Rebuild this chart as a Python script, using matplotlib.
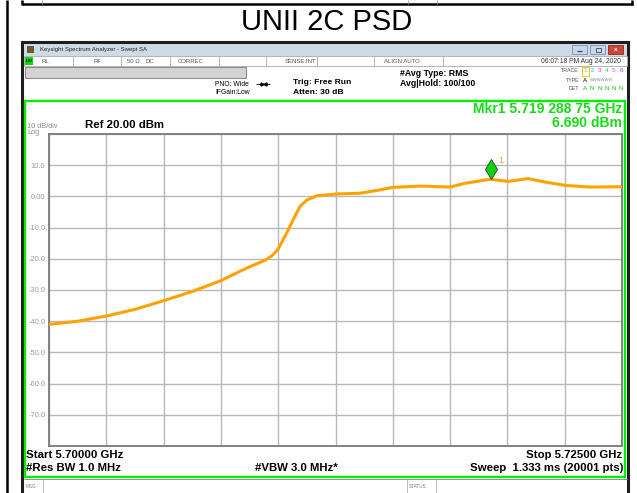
import matplotlib
matplotlib.use("Agg")
import matplotlib.pyplot as plt
import matplotlib.transforms as mtransforms
from matplotlib.patches import Rectangle

# ====== trace values ======
freq_ghz = [5.70000, 5.70127, 5.70253, 5.70375, 5.70497, 5.70624, 5.70750, 5.70833, 5.70877,
            5.70942, 5.70973, 5.70999, 5.71038, 5.71065, 5.71095, 5.71126, 5.71169, 5.71257,
            5.71357, 5.71422, 5.71500, 5.71619, 5.71750, 5.71815, 5.71924, 5.72003, 5.72090,
            5.72164, 5.72256, 5.72360, 5.72500]
level_dbm = [-41.0, -40.0, -38.3, -36.2, -33.5, -30.5, -27.0, -24.0, -22.5,
             -20.5, -19.0, -17.0, -11.6, -7.5, -3.2, -1.1, 0.2, 0.8,
             1.0, 1.8, 2.9, 3.3, 3.0, 4.2, 5.5, 4.8, 5.7,
             4.6, 3.5, 3.0, 3.1]

start_ghz, stop_ghz = 5.700, 5.725
ref_level, db_div = 20.0, 10.0
mkr_freq, mkr_level = 5.71928875, 6.690

y_ticks = [20, 10, 0, -10, -20, -30, -40, -50, -60, -70, -80]
y_labels = ["", "10.0", "0.00", "-10.0", "-20.0", "-30.0", "-40.0", "-50.0", "-60.0", "-70.0", ""]

trace_nums = ["1", "2", "3", "4", "5", "6"]
trace_cols = ["#f0a000", "#00d0f0", "#ff20ff", "#30d030", "#ff40ff", "#9040ff"]

status_cells = [(42, "RL"), (93, "RF"), (127, "50 \u03a9"), (146, "DC"), (178, "CORREC"),
                (285, "SENSE:INT"), (384, "ALIGN AUTO")]
status_seps = [73, 121, 170, 219, 266, 317, 374, 443]

UI = ["Liberation Sans", "DejaVu Sans"]

W, H = 637, 493
fig = plt.figure(figsize=(W / 100, H / 100), dpi=100)
bg = fig.add_axes([0, 0, 1, 1])
bg.set_xlim(0, W)
bg.set_ylim(H, 0)
bg.axis("off")


def box(x0, y0, x1, y1, fc="none", ec="none", lw=1.0, z=1):
    bg.add_patch(Rectangle((x0, y0), x1 - x0, y1 - y0, facecolor=fc,
                           edgecolor=ec, linewidth=lw, zorder=z))


def hline(y, x0, x1, c="black", lw=1.0, z=2):
    bg.plot([x0, x1], [y, y], color=c, lw=lw, solid_capstyle="butt", zorder=z)


def vline(x, y0, y1, c="black", lw=1.0, z=2):
    bg.plot([x, x], [y0, y1], color=c, lw=lw, solid_capstyle="butt", zorder=z)


def txt(x, y, s, size, color="black", weight="normal", ha="left", va="center", family=UI):
    bg.text(x, y, s, fontsize=size, color=color, fontweight=weight, ha=ha, va=va,
            family=family, zorder=5)


# page table lines
hline(4, 22, 633, lw=1.8)
vline(7, 0, H, lw=1.8)
vline(22, 0, 5, lw=1.8)
vline(632, 0, 5, lw=1.8)
for xx in [42, 408, 437]:
    vline(xx, 0, 4, c="#9a9a9a", lw=0.6)

txt(327, 22.5, "UNII 2C PSD", 21, ha="center")

# analyzer window
box(22, 42, 628, 496, fc="white", ec="#1e1e1e", lw=2.2)
box(24, 43.5, 626.5, 56, fc="#cfdae7")
box(27, 46, 34, 53, fc="#6b5a2a")
txt(40, 49.8, "Keysight Spectrum Analyzer - Swept SA", 4.3, color="#222222")
box(572, 45, 587, 53.5, fc="#c8d8ec", ec="#7d8fa8", lw=0.6)
box(590, 45, 605, 53.5, fc="#c8d8ec", ec="#7d8fa8", lw=0.6)
box(608, 45, 623, 53.5, fc="#c9473b", ec="#8a2a22", lw=0.6)
hline(51, 577, 582, c="#33475e", lw=0.9, z=3)
box(595.5, 47.5, 600.5, 51.5, ec="#33475e", lw=0.6, z=3)
txt(615.5, 49.3, "x", 4.5, color="white", weight="bold", ha="center")

# status row
box(24, 56, 626.5, 66, fc="white", ec="#a8a8a8", lw=0.6)
box(25, 57, 33, 65, fc="#00e000")
txt(29, 61, "LXI", 3.2, weight="bold", ha="center")
for xx in status_seps:
    vline(xx, 56, 66, c="#a8a8a8", lw=0.6)
for xx, s in status_cells:
    txt(xx, 61.2, s, 4.3, color="#555555")
txt(621, 61.2, "06:07:18 PM Aug 24, 2020", 4.9, color="#333333", ha="right")

# header block
box(25, 67, 246, 78, fc="#d3d3d3", ec="#8f8f8f", lw=0.8)
txt(215, 84, "PNO: Wide", 4.9)
txt(215, 93, "IFGain:Low", 4.9)
hline(84, 256, 270, lw=0.6)
bg.plot([261.5], [84], marker=">", ms=2.2, color="black", zorder=3)
bg.plot([264.5], [84], marker="<", ms=2.2, color="black", zorder=3)
txt(293, 83, "Trig: Free Run", 6.1, weight="bold")
txt(293, 92, "Atten: 30 dB", 6.1, weight="bold")
txt(400, 74, "#Avg Type: RMS", 6.3, weight="bold")
txt(400, 84, "Avg|Hold: 100/100", 6.3, weight="bold")
txt(579, 71, "TRACE", 3.8, color="#555555", ha="right")
txt(579, 80, "TYPE", 3.8, color="#555555", ha="right")
txt(579, 89, "DET", 3.8, color="#555555", ha="right")
box(581.5, 66.5, 588.5, 75.5, ec="#e8c000", lw=0.6)
for i, (n, c) in enumerate(zip(trace_nums, trace_cols)):
    xx = 585 + i * 7.2
    txt(xx, 71, n, 4.6, color=c, ha="center")
    txt(xx, 89, "A" if i == 0 else "N", 4.6, color="#20c020", ha="center")
txt(585, 80, "A", 4.6, ha="center")
txt(589.5, 80, "WWWWWW", 3.0, color="#888888")

# green measurement frame
box(25, 100.5, 625, 477, ec="#00ee00", lw=1.7, z=4)
txt(622, 109, "Mkr1 5.719 288 75 GHz", 10, color="#14dc14", weight="bold", ha="right")
txt(622, 123, "6.690 dBm", 10, color="#14dc14", weight="bold", ha="right")
txt(27, 126, "10 dB/div", 5.3, color="#8c8c8c")
txt(27, 132.5, "Log", 5.3, color="#8c8c8c")
txt(85, 125.5, "Ref 20.00 dBm", 8.2, weight="bold")

txt(26, 455, "Start 5.70000 GHz", 8.2, weight="bold")
txt(26, 468, "#Res BW 1.0 MHz", 8.2, weight="bold")
txt(255, 468, "#VBW 3.0 MHz*", 8.2, weight="bold")
txt(622, 455, "Stop 5.72500 GHz", 8.2, weight="bold", ha="right")
txt(623, 468, "Sweep  1.333 ms (20001 pts)", 8.2, weight="bold", ha="right")

# msg / status row
hline(479, 24, 626.5, c="#909090", lw=0.7)
vline(43, 479, H, c="#b0b0b0", lw=0.6)
vline(407, 479, H, c="#b0b0b0", lw=0.6)
vline(436, 479, H, c="#b0b0b0", lw=0.6)
txt(26, 487, "MSG", 3.3, color="#777777")
txt(408.5, 487, "STATUS", 3.3, color="#777777")

# ====== trace axes ======
ax = fig.add_axes([49 / W, 1 - 446 / H, 573 / W, 312 / H])
span = stop_ghz - start_ghz
ax.set_xlim(start_ghz, stop_ghz)
ax.set_ylim(ref_level - 10 * db_div, ref_level)
ax.set_xticks([start_ghz + i * span / 10 for i in range(11)])
ax.set_xticklabels([])
ax.set_yticks(y_ticks)
ax.set_yticklabels(y_labels, color="#9a9a9a", fontsize=5.4, family=UI)
ax.tick_params(length=0, pad=2.5)
ax.grid(True, color="#b8b8b8", lw=1.0)
ax.set_axisbelow(True)
for sp in ax.spines.values():
    sp.set_color("#7a7a7a")
    sp.set_linewidth(1.3)
ax.patch.set_alpha(0)

ax.plot(freq_ghz, level_dbm, color="#ffa200", lw=2.2, zorder=3)

# marker diamond sits with its lower tip on the marker point
tip = mtransforms.offset_copy(ax.transData, fig=fig, y=5, units="points")
ax.plot([mkr_freq], [mkr_level], marker="d", ms=10, mfc="#10d010", mec="#2a5a2a",
        mew=0.7, transform=tip, zorder=4, clip_on=False)
ax.annotate("1", (mkr_freq, mkr_level), xytext=(5, 11), textcoords="offset points",
            color="#f0a020", fontsize=6.5, family=UI, va="center")

fig.savefig("out.png", dpi=100)
